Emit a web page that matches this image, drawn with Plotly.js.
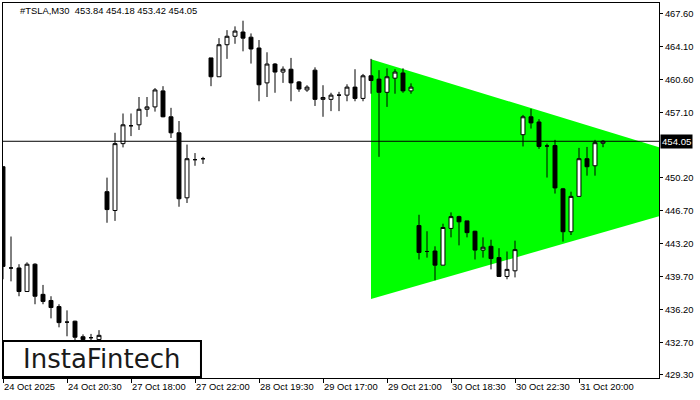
<!DOCTYPE html>
<html>
<head>
<meta charset="utf-8">
<script src="https://cdn.plot.ly/plotly-3.0.1.min.js"></script>
<style>html,body{margin:0;padding:0;background:#fff;}#chart{width:700px;height:400px;}</style>
</head>
<body>
<div id="chart"></div>
<script>
// ---- data ----
const symbolTitle = "#TSLA,M30  453.84 454.18 453.42 454.05";
const barIndex = Array.from({length: 76}, (_, i) => i);
const openP = [451.35,440.6,440.6,438.1,441.0,437.8,437.15,436.5,434.85,434.95,433.3,433.2,433.0,
  448.7,446.7,453.8,455.7,455.8,457.45,457.7,459.4,456.65,454.95,448.05,452.1,452.2,
  462.9,460.9,464.3,465.2,465.65,465.1,463.95,460.25,462.25,461.4,461.7,460.35,459.5,461.6,458.5,458.5,458.95,458.95,459.8,458.6,461.0,460.65,459.25,460.75,461.3,459.4,
  445.1,442.35,442.4,440.9,444.8,446.05,445.6,444.5,442.5,442.9,441.7,439.7,440.3,
  454.75,456.65,456.1,453.55,453.6,449.0,444.45,448.2,452.2,451.45,453.84];
const highP = [451.4,443.94,441.0,441.2,441.1,438.8,437.6,436.75,436.1,435.0,433.55,433.6,434.0,
  450.19,454.95,457.0,457.0,458.75,458.75,459.7,459.9,457.6,456.2,453.7,452.8,452.4,
  462.9,465.0,465.85,466.25,466.85,465.5,464.8,463.5,462.35,462.0,462.9,460.45,460.0,461.9,460.0,459.2,459.3,460.1,461.7,461.2,462.8,461.6,461.8,461.7,461.8,460.2,
  446.25,444.5,442.9,445.3,446.5,446.15,445.6,444.55,443.85,443.6,442.7,442.35,443.5,
  456.85,457.5,456.4,453.8,454.2,449.1,448.7,453.35,453.45,454.2,454.18];
const lowP = [439.4,439.18,437.6,438.1,436.75,436.75,435.25,434.3,433.35,432.6,432.7,432.8,432.8,
  445.4,445.6,453.4,454.6,455.25,456.65,457.2,456.6,454.4,447.1,447.5,451.45,451.65,
  459.9,460.9,462.8,464.4,463.6,462.3,458.3,458.75,459.2,460.25,458.3,459.3,459.3,457.8,456.65,457.25,457.25,458.3,458.3,458.3,459.1,452.4,457.7,459.1,459.2,459.1,
  441.5,441.7,439.3,440.9,443.85,443.0,443.85,441.5,441.7,440.45,439.7,439.4,439.6,
  453.5,455.4,453.25,450.2,448.5,443.4,444.1,448.2,450.4,450.4,453.42];
const closeP = [440.77,440.6,438.1,441.0,437.6,437.05,436.4,434.8,434.85,433.25,433.0,433.2,433.45,
  446.8,453.8,455.8,455.7,457.45,457.7,459.5,456.65,454.95,447.95,452.2,452.1,452.2,
  460.9,464.3,465.2,465.75,465.0,463.85,460.05,462.25,461.4,461.7,460.25,459.6,459.8,458.5,458.7,458.95,458.95,459.8,458.6,461.0,460.5,459.25,460.9,461.4,459.4,459.8,
  442.25,442.35,440.9,444.9,446.05,445.5,444.35,442.5,442.8,441.6,439.7,440.45,442.55,
  456.65,456.0,453.5,453.55,449.1,444.45,448.2,452.2,451.35,453.9,454.05];
// triangle pattern (bar index, price)
const triX = [46, 96.6, 46];
const triY = [462.75, 449.64, 437.31];
const currentPrice = 454.05;
const xTickVals = [0, 8, 16, 24, 32, 40, 48, 56, 64, 72];
const xTickText = ['24 Oct 2025','24 Oct 20:30','27 Oct 18:00','27 Oct 22:00','28 Oct 19:30',
  '29 Oct 17:00','29 Oct 21:00','30 Oct 18:30','30 Oct 22:30','31 Oct 20:00'];
const yTickVals = [429.3,432.7,436.2,439.7,443.2,446.7,450.2,457.1,460.6,464.1,467.6];
const logoText = 'InstaFintech';

// ---- chart ----
const axisFont = {family: 'Liberation Sans, Arial, sans-serif', size: 9.4, color: '#000'};
const triPath = 'M ' + triX.map((x, i) => x + ',' + triY[i]).join(' L ') + ' Z';
const traces = [
  {type: 'candlestick', x: barIndex, open: openP, high: highP, low: lowP, close: closeP,
   increasing: {line: {color: '#000', width: 1}, fillcolor: '#ffffff'},
   decreasing: {line: {color: '#000', width: 1}, fillcolor: '#000000'},
   whiskerwidth: 0, showlegend: false, hoverinfo: 'skip'}
];
const layout = {
  width: 700, height: 400,
  margin: {l: 3, r: 41, t: 3, b: 22, pad: 0},
  paper_bgcolor: '#fff', plot_bgcolor: '#fff',
  showlegend: false,
  xaxis: {range: [0, 82], tickvals: xTickVals, ticktext: xTickText,
    showgrid: false, zeroline: false, showline: true, mirror: true, linecolor: '#000', linewidth: 1,
    ticks: 'outside', ticklen: 4, tickcolor: '#000', tickfont: axisFont,
    ticklabelposition: 'outside right', rangeslider: {visible: false}, fixedrange: true},
  yaxis: {range: [428.92, 468.73], side: 'right', tickvals: yTickVals, tickformat: '.2f',
    showgrid: false, zeroline: false, showline: true, mirror: true, linecolor: '#000', linewidth: 1,
    ticks: 'outside', ticklen: 3, tickcolor: '#000', tickfont: axisFont, fixedrange: true},
  shapes: [
    {type: 'path', xref: 'x', yref: 'y', path: triPath,
     fillcolor: '#00ff00', line: {width: 0}, layer: 'below'},
    {type: 'line', xref: 'paper', x0: 0, x1: 1, yref: 'y', y0: currentPrice, y1: currentPrice,
     line: {color: '#000', width: 1}, layer: 'above'},
    {type: 'rect', xref: 'paper', yref: 'paper', x0: 0, x1: 0.3018, y0: 0.0027, y1: 0.0987,
     fillcolor: '#fff', line: {color: '#000', width: 2}, layer: 'above'}
  ],
  annotations: [
    {text: symbolTitle, xref: 'paper', yref: 'paper', x: 15/656, y: 1 - 8/375,
     xanchor: 'left', yanchor: 'middle', showarrow: false,
     font: {family: 'Liberation Sans, Arial, sans-serif', size: 9.4, color: '#000'}},
    {text: currentPrice.toFixed(2), xref: 'paper', yref: 'y', x: 1, y: currentPrice,
     xanchor: 'left', yanchor: 'middle', showarrow: false, xshift: 1,
     bgcolor: '#000', borderpad: 1,
     font: {family: 'Liberation Sans, Arial, sans-serif', size: 9.6, color: '#fff'}},
    {text: logoText, xref: 'paper', yref: 'paper', x: 0.1509, y: 0.0513,
     xanchor: 'center', yanchor: 'middle', showarrow: false,
     font: {family: 'DejaVu Sans, sans-serif', size: 26, color: '#1a1a1a'}}
  ]
};
Plotly.newPlot('chart', traces, layout, {staticPlot: true, displayModeBar: false});
</script>
</body>
</html>
